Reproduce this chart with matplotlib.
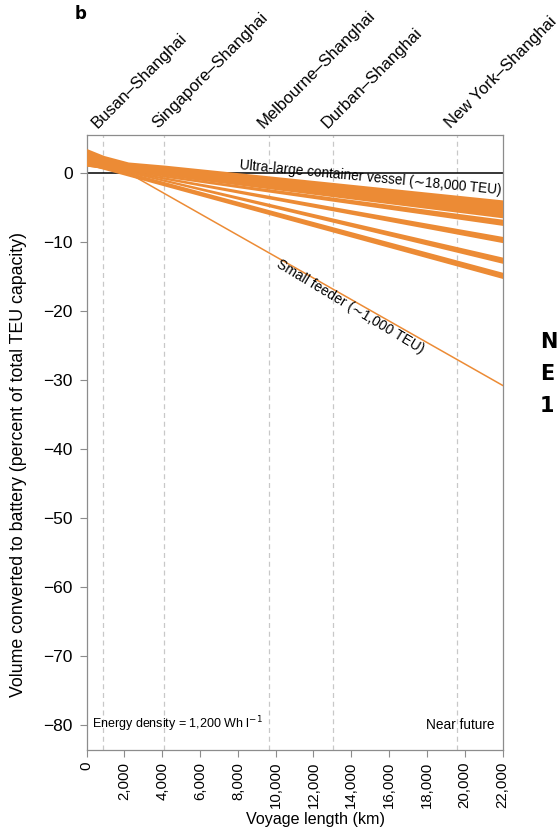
import matplotlib
matplotlib.use("Agg")
import matplotlib.pyplot as plt
import matplotlib.transforms as mtransforms
import numpy as np

plt.rcParams['font.family'] = ['Liberation Sans', 'DejaVu Sans']

# voyage length (km) where the band edges are read
x_ends = [0, 22000]
x_top = [0, 900, 2200, 4100, 22000]

# ultra-large vessel band (upper edge has a kink near the start)
ulcv_top = [3.55, 2.55, 1.6, 1.15, -3.9]
ulcv_bot = [1.0, -6.5]

# remaining vessel size bands, (top, bottom) at 0 km and 22,000 km
band_tops = [[1.17, -6.7], [1.42, -9.2], [1.70, -12.2], [1.78, -14.4]]
band_bots = [[1.0, -7.6], [1.2, -10.1], [1.5, -13.1], [1.2, -15.3]]

# small feeder
feeder_x = [2200, 22000]
feeder_y = [0, -30.8]

routes = ["Busan–Shanghai", "Singapore–Shanghai", "Melbourne–Shanghai",
          "Durban–Shanghai", "New York–Shanghai"]
route_km = [880, 4100, 9660, 13040, 19600]

orange = "#ec8b35"
grey = "#8c8c8c"

fig = plt.figure(figsize=(5.59, 8.39), dpi=100)
ax = fig.add_axes([0.155, 0.106, 0.744, 0.733])

for r in route_km:
    ax.axvline(r, color="#c8c8c8", lw=0.9, ls=(0, (4, 3)), zorder=1)
ax.axhline(0, color="black", lw=1.1, zorder=2)

xf = np.array(x_top, dtype=float)
bot_f = np.interp(xf, x_ends, ulcv_bot)
ax.fill_between(xf, ulcv_top, bot_f, color=orange, lw=0, zorder=3)
for t, b in zip(band_tops, band_bots):
    ax.fill_between(x_ends, t, b, color=orange, lw=0, zorder=3)
ax.plot(feeder_x, feeder_y, color=orange, lw=1.1, zorder=3)

ax.set_xlim(0, 22000)
ax.set_ylim(-83.7, 5.5)
ax.set_xticks(np.arange(0, 22001, 2000))
ax.set_xticklabels([f"{v:,}" for v in range(0, 22001, 2000)], rotation=90)
ax.set_yticks(np.arange(0, -81, -10))
ax.set_yticklabels([f"{v}".replace("-", "\u2212") for v in range(0, -81, -10)])
ax.tick_params(direction="out", length=5, width=0.8, color=grey)
ax.tick_params(axis="x", labelsize=10.8, pad=3.5)
ax.tick_params(axis="y", labelsize=12.5, pad=5)
for s in ax.spines.values():
    s.set_color(grey)
    s.set_linewidth(0.9)

ax.set_xlabel("Voyage length (km)", fontsize=11.6)
ax.xaxis.set_label_coords(0.551, -0.1)
ax.set_ylabel("Volume converted to battery (percent of total TEU capacity)",
              fontsize=12.8)
ax.yaxis.set_label_coords(-0.1435, 0.465)

ax.text(15000, -0.6, "Ultra-large container vessel (\u223c18,000 TEU)",
        fontsize=9.8, rotation=-5.5, ha="center", va="center", zorder=4)
ax.text(13950, -19.4, "Small feeder (\u223c1,000 TEU)",
        fontsize=10, rotation=-31, ha="center", va="center", zorder=4)
ax.text(300, -80, "Energy density = 1,200 Wh l$^{-1}$", fontsize=9,
        ha="left", va="center")
ax.text(21600, -80, "Near future", fontsize=9.8, ha="right", va="center")

trans = mtransforms.blended_transform_factory(ax.transData, ax.transAxes)
trans = mtransforms.offset_copy(trans, fig=fig, x=-4, y=4, units="dots")
for name, km in zip(routes, route_km):
    ax.text(km, 1.0, name, transform=trans, rotation=45, rotation_mode="anchor",
            ha="left", va="bottom", fontsize=12)

fig.text(75 / 559, 1 - 14 / 839, "b", fontsize=12, fontweight="bold",
         family="DejaVu Sans", ha="left", va="center")
for i, ch in enumerate(["N", "E", "1"]):
    fig.text(540 / 559, 1 - (342 + 32 * i) / 839, ch, fontsize=15,
             fontweight="bold", family="DejaVu Sans", ha="left", va="center")

fig.savefig("out.png", dpi=100)
